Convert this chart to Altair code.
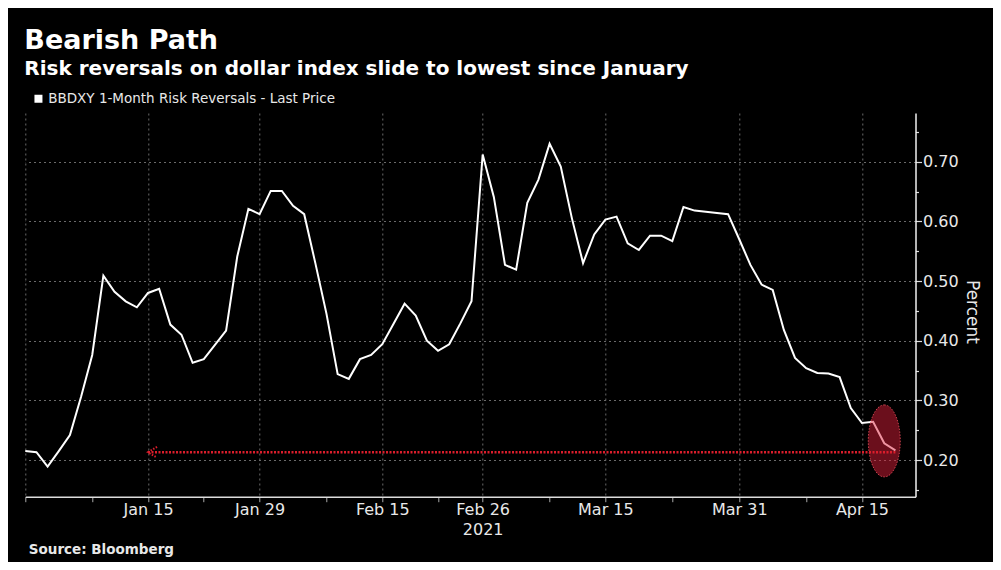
import altair as alt
import pandas as pd
import numpy as np

# ---------------- text ----------------
title_text = "Bearish Path"
subtitle_text = "Risk reversals on dollar index slide to lowest since January"
series_name = "BBDXY 1-Month Risk Reversals - Last Price"
source_text = "Source: Bloomberg"
y_title = "Percent"
year_label = "2021"

# ---------------- data (one value per business day from start_date) ----------------
start_date = "2020-12-31"
values = [
    0.215, 0.213, 0.189, 0.215, 0.242, 0.306, 0.376, 0.509, 0.482, 0.466,
    0.456, 0.480, 0.487, 0.427, 0.410, 0.363, 0.369, 0.393, 0.417, 0.541,
    0.621, 0.612, 0.651, 0.651, 0.626, 0.612, 0.530, 0.445, 0.344, 0.336,
    0.369, 0.376, 0.394, 0.428, 0.462, 0.442, 0.400, 0.383, 0.394, 0.429,
    0.466, 0.712, 0.641, 0.527, 0.519, 0.631, 0.670, 0.730, 0.692, 0.605,
    0.530, 0.578, 0.603, 0.608, 0.563, 0.552, 0.576, 0.576, 0.567, 0.624,
    0.618, 0.616, 0.614, 0.612, 0.570, 0.527, 0.494, 0.485, 0.418, 0.371,
    0.354, 0.346, 0.345, 0.339, 0.287, 0.262, 0.264, 0.228, 0.216,
]

major_tick_dates = ["2021-01-15", "2021-01-29", "2021-02-15", "2021-02-26",
                    "2021-03-15", "2021-03-31", "2021-04-15"]
major_tick_labels = ["Jan 15", "Jan 29", "Feb 15", "Feb 26", "Mar 15", "Mar 31", "Apr 15"]
year_label_date = "2021-02-26"
minor_tick_dates = ["2020-12-31", "2021-01-08", "2021-01-22", "2021-02-08",
                    "2021-02-22", "2021-03-08", "2021-03-23", "2021-04-08"]
x_domain = [0, 79.8]

y_ticks = [0.15, 0.20, 0.25, 0.30, 0.35, 0.40, 0.45, 0.50, 0.55, 0.60, 0.65, 0.70, 0.75]
y_domain = [0.1385, 0.7816]

# annotation
arrow_from_date = "2021-01-15"
arrow_to_date = "2021-04-20"
arrow_level = 0.213
ellipse_date = "2021-04-19"
ellipse_level = 0.232

# ---------------- helpers ----------------
def bidx(d):
    return int(np.busday_count(np.datetime64(start_date, "D"), np.datetime64(d, "D")))

dates = pd.bdate_range(start_date, periods=len(values))
df = pd.DataFrame({
    "i": [bidx(d.strftime("%Y-%m-%d")) for d in dates],
    "date": dates.strftime("%Y-%m-%d"),
    "value": values,
    "series": series_name,
})

major_idx = [bidx(d) for d in major_tick_dates]
minor_idx = [bidx(d) for d in minor_tick_dates]
year_idx = bidx(year_label_date)
tick_values = sorted(set(major_idx + minor_idx))
grid_idx = sorted(set(major_idx + [minor_idx[0]]))

expr = "''"
for v, lab in reversed(list(zip(major_idx, major_tick_labels))):
    if v == year_idx:
        lab_js = "['%s','%s']" % (lab, year_label)
    else:
        lab_js = "'%s'" % lab
    expr = "datum.value == %d ? %s : (%s)" % (v, lab_js, expr)
x_label_expr = expr
x_grid_test = "indexof([%s], datum.value) >= 0" % ",".join(str(g) for g in grid_idx)

y_major_test = "abs(datum.value*10 - round(datum.value*10)) < 0.001"

FONT = "DejaVu Sans"
TEXT = "#e8e8e8"
GRID = "#6a6a6a"
RED = "#dc1e2c"

W, H = 890.2, 383.7
PAD_L, PAD_T = 17.3, 105
PAD_R = 985 - PAD_L - W
PAD_B = 554 - PAD_T - H

x_scale = alt.Scale(domain=x_domain, nice=False, zero=False)
y_scale = alt.Scale(domain=y_domain, nice=False, zero=False)

x_axis = alt.Axis(
    title=None,
    values=tick_values,
    labelExpr=x_label_expr,
    labelFont=FONT, labelFontSize=16, labelColor=TEXT,
    labelLineHeight=20, labelPadding=0, labelFlush=False, labelOverlap=False,
    labelBaseline="top",
    tickColor="#a8a8a8", tickSize=5, tickWidth=1,
    domainColor="#dddddd", domainWidth=1.5,
    grid=True, gridColor=GRID, gridDash=[2, 3], gridWidth=1,
    gridOpacity={"condition": {"test": x_grid_test, "value": 1}, "value": 0},
)
y_axis = alt.Axis(
    title=y_title, orient="right",
    titleFont=FONT, titleFontSize=17, titleFontWeight="normal", titleColor=TEXT,
    titleAngle=90, titlePadding=4, titleY=198.5,
    values=y_ticks,
    labelExpr="%s ? format(datum.value, '.2f') : ''" % y_major_test,
    labelFont=FONT, labelFontSize=16, labelColor=TEXT, labelPadding=1,
    labelFlush=False, labelOverlap=False,
    tickColor="#dddddd", tickWidth=1.2,
    tickSize={"condition": {"test": y_major_test, "value": 6}, "value": 3},
    domainColor="#f0f0f0", domainWidth=1.5,
    grid=True, gridColor=GRID, gridDash=[2, 3], gridWidth=1,
    gridOpacity={"condition": {"test": y_major_test, "value": 1}, "value": 0},
)

def X(field):
    return alt.X(field, type="quantitative", scale=x_scale, axis=x_axis)

def Y(field):
    return alt.Y(field, type="quantitative", scale=y_scale, axis=y_axis)

line = alt.Chart(df).mark_line(strokeWidth=2, strokeJoin="miter").encode(
    x=X("i"),
    y=Y("value"),
    color=alt.Color(
        "series:N",
        scale=alt.Scale(range=["#ffffff"]),
        legend=alt.Legend(
            title=None, orient="none", legendX=6.4, legendY=-21,
            symbolType="square", symbolSize=64, symbolFillColor="#ffffff",
            symbolStrokeColor="#ffffff", symbolStrokeWidth=0, symbolOpacity=1,
            labelFont=FONT, labelFontSize=13.5, labelColor=TEXT, labelOffset=3,
            labelLimit=0, padding=0,
        ),
    ),
)

ellipse_df = pd.DataFrame({"i": [bidx(ellipse_date)], "v": [ellipse_level]})
ELLIPSE = "M0,-1 A0.444,1 0 1 1 0,1 A0.444,1 0 1 1 0,-1 Z"
ellipse = alt.Chart(ellipse_df).mark_point(
    shape=ELLIPSE, size=5184, filled=True, fill="#df203b", fillOpacity=0.48,
    stroke="#e8505c", strokeOpacity=0.8, strokeWidth=1, strokeDash=[1.5, 1.5],
).encode(x=X("i"), y=Y("v"))

arrow_df = pd.DataFrame({"a": [bidx(arrow_from_date)], "b": [bidx(arrow_to_date)], "v": [arrow_level]})
arrow = alt.Chart(arrow_df).mark_rule(color=RED, strokeWidth=2.5, strokeDash=[2, 1.5]).encode(
    x=X("a"), x2="b", y=Y("v")
)
head = alt.Chart(arrow_df).mark_point(
    shape="M2,-1.2L0,0L2,1.2", size=81, filled=False, stroke=RED, strokeWidth=2,
    strokeDash=[1.5, 1.5], opacity=1,
).encode(x=X("a"), y=Y("v"))

source_df = pd.DataFrame({"t": [source_text]})
source = alt.Chart(source_df).mark_text(
    align="left", baseline="alphabetic", font=FONT, fontSize=13.5, fontWeight="bold", color=TEXT,
).encode(text="t:N", x=alt.value(3.5), y=alt.value(441))

chart = alt.layer(line, ellipse, arrow, head, source).properties(
    width=W, height=H,
    title=alt.TitleParams(
        text=title_text, subtitle=subtitle_text, anchor="start", frame="group",
        font=FONT, fontSize=27, fontWeight="bold", color="#ffffff",
        subtitleFont=FONT, subtitleFontSize=20, subtitleFontWeight="bold",
        subtitleColor="#ffffff", subtitlePadding=4, offset=12, dx=-1,
    ),
    background="#000000",
    padding={"left": PAD_L, "top": PAD_T, "right": PAD_R, "bottom": PAD_B},
    autosize=alt.AutoSizeParams(type="none"),
).configure_view(strokeWidth=0)

chart.save("out.html", embed_options={"renderer": "svg", "actions": False})
